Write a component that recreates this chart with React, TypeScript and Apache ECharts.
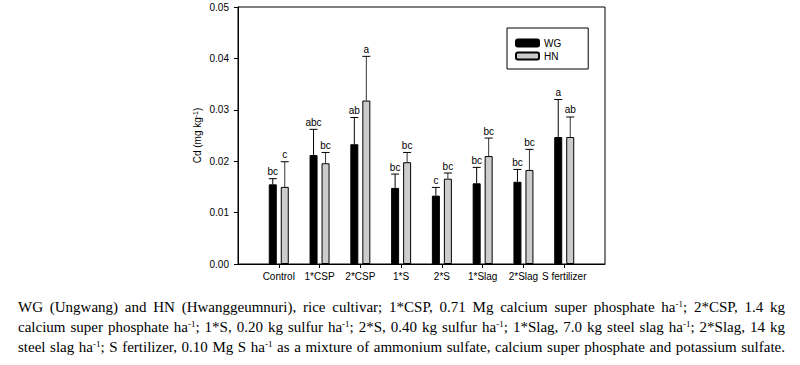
import React, { useEffect, useRef } from "react";
import * as echarts from "echarts";

const categories = ["Control", "1*CSP", "2*CSP", "1*S", "2*S", "1*Slag", "2*Slag", "S fertilizer"];
const wgMean = [0.0155, 0.0212, 0.0233, 0.0148, 0.0133, 0.0157, 0.016, 0.0247];
const wgUpper = [0.0166, 0.0262, 0.0285, 0.0175, 0.0149, 0.0188, 0.0184, 0.032];
const hnMean = [0.015, 0.0196, 0.0318, 0.0198, 0.0166, 0.021, 0.0183, 0.0247];
const hnUpper = [0.0199, 0.0217, 0.0404, 0.0217, 0.0177, 0.0245, 0.0223, 0.0286];
const wgLetters = ["bc", "abc", "ab", "bc", "c", "bc", "bc", "a"];
const hnLetters = ["c", "bc", "a", "bc", "bc", "bc", "bc", "ab"];
const yTicks = [0, 0.01, 0.02, 0.03, 0.04, 0.05];

const FONT = 'Arial, "Liberation Sans", sans-serif';

function errorSeries(name: string, means: number[], uppers: number[], letters: string[], offset: number, color: string) {
  return {
    type: "custom",
    name: name + " error",
    z: 5,
    silent: true,
    encode: { x: 0, y: [1, 2] },
    data: means.map((m, i) => [i + 1, m, uppers[i]]),
    renderItem: (params: any, api: any) => {
      const idx = api.value(0);
      const base = api.coord([idx, api.value(1)]);
      const top = api.coord([idx, api.value(2)]);
      const x = base[0] + offset;
      return {
        type: "group",
        children: [
          { type: "line", shape: { x1: x, y1: base[1], x2: x, y2: top[1] }, style: { stroke: color, lineWidth: 1 } },
          { type: "line", shape: { x1: x - 4, y1: top[1], x2: x + 4, y2: top[1] }, style: { stroke: "#000", lineWidth: 1 } },
          {
            type: "text",
            x: x,
            y: top[1] - 2,
            style: {
              text: letters[params.dataIndex],
              fill: "#000",
              font: "10px " + FONT,
              textAlign: "center",
              textVerticalAlign: "bottom",
            },
          },
        ],
      };
    },
  };
}

export default function App() {
  const ref = useRef<HTMLDivElement>(null);
  useEffect(() => {
    if (!ref.current) return;
    const chart = echarts.init(ref.current, null, { renderer: "svg" });
    const axisCats = [" ", ...categories, "  "];
    chart.setOption({
      animation: false,
      textStyle: { fontFamily: FONT },
      grid: { left: 238, right: 195, top: 7, bottom: 101, show: true, borderColor: "#000", borderWidth: 1 },
      legend: {
        data: ["WG", "HN"],
        orient: "vertical",
        left: 507,
        top: 28,
        padding: [10, 27, 8, 8],
        itemGap: 3,
        itemWidth: 23,
        itemHeight: 7,
        itemTextGap: 5,
        borderColor: "#000",
        borderWidth: 1,
        textStyle: { fontSize: 10, color: "#000", fontFamily: FONT },
        selectedMode: false,
      },
      xAxis: {
        type: "category",
        data: axisCats,
        boundaryGap: false,
        axisLine: { lineStyle: { color: "#000", width: 1 } },
        axisTick: {
          length: 4,
          interval: (i: number) => i > 0 && i < axisCats.length - 1,
          lineStyle: { color: "#000" },
        },
        axisLabel: { interval: 0, fontSize: 10, color: "#000", margin: 7, fontFamily: FONT },
        splitLine: { show: false },
      },
      yAxis: {
        type: "value",
        min: yTicks[0],
        max: yTicks[yTicks.length - 1],
        interval: 0.01,
        name: "Cd (mg kg{sup|-1})",
        nameLocation: "middle",
        nameGap: 36,
        nameTextStyle: {
          fontSize: 10,
          color: "#000",
          fontFamily: FONT,
          rich: { sup: { fontSize: 7, verticalAlign: "top", color: "#000", fontFamily: FONT } },
        },
        axisLine: { show: true, lineStyle: { color: "#000", width: 1 } },
        axisTick: { show: true, length: 4, lineStyle: { color: "#000" } },
        axisLabel: { fontSize: 10, color: "#000", margin: 9, fontFamily: FONT, formatter: (v: number) => v.toFixed(2) },
        splitLine: { show: false },
      },
      series: [
        {
          type: "bar",
          name: "WG",
          data: [null, ...wgMean, null],
          barWidth: 8,
          barGap: "50%",
          itemStyle: { color: "#000", borderColor: "#000", borderWidth: 1 },
          z: 2,
        },
        {
          type: "bar",
          name: "HN",
          data: [null, ...hnMean, null],
          barWidth: 8,
          barGap: "50%",
          itemStyle: { color: "#cccccc", borderColor: "#000", borderWidth: 1 },
          z: 2,
        },
        errorSeries("WG", wgMean, wgUpper, wgLetters, -6, "#000"),
        errorSeries("HN", hnMean, hnUpper, hnLetters, 6, "#333"),
      ],
    });
    return () => chart.dispose();
  }, []);

  const sup = (
    <sup style={{ fontSize: "9px", lineHeight: 0, verticalAlign: "5px" }}>-1</sup>
  );
  const lineStyle: React.CSSProperties = {
    textAlign: "justify",
    textAlignLast: "justify",
    whiteSpace: "nowrap",
    height: "20px",
  };

  return (
    <div style={{ position: "absolute", left: 0, top: 0, width: 800, height: 365, background: "#fff" }}>
      <div ref={ref} style={{ position: "absolute", left: 0, top: 0, width: 800, height: 365 }} />
      <div
        style={{
          position: "absolute",
          left: 18,
          top: 297,
          width: 767,
          fontFamily: '"Liberation Serif", "Times New Roman", serif',
          fontSize: "15px",
          lineHeight: "20px",
          color: "#000",
        }}
      >
        <div style={lineStyle}>
          WG (Ungwang) and HN (Hwanggeumnuri), rice cultivar; 1*CSP, 0.71 Mg calcium super phosphate ha{sup}; 2*CSP, 1.4 kg
        </div>
        <div style={lineStyle}>
          calcium super phosphate ha{sup}; 1*S, 0.20 kg sulfur ha{sup}; 2*S, 0.40 kg sulfur ha{sup}; 1*Slag, 7.0 kg steel slag ha{sup}; 2*Slag, 14 kg
        </div>
        <div style={lineStyle}>
          steel slag ha{sup}; S fertilizer, 0.10 Mg S ha{sup} as a mixture of ammonium sulfate, calcium super phosphate and potassium sulfate.
        </div>
      </div>
    </div>
  );
}
